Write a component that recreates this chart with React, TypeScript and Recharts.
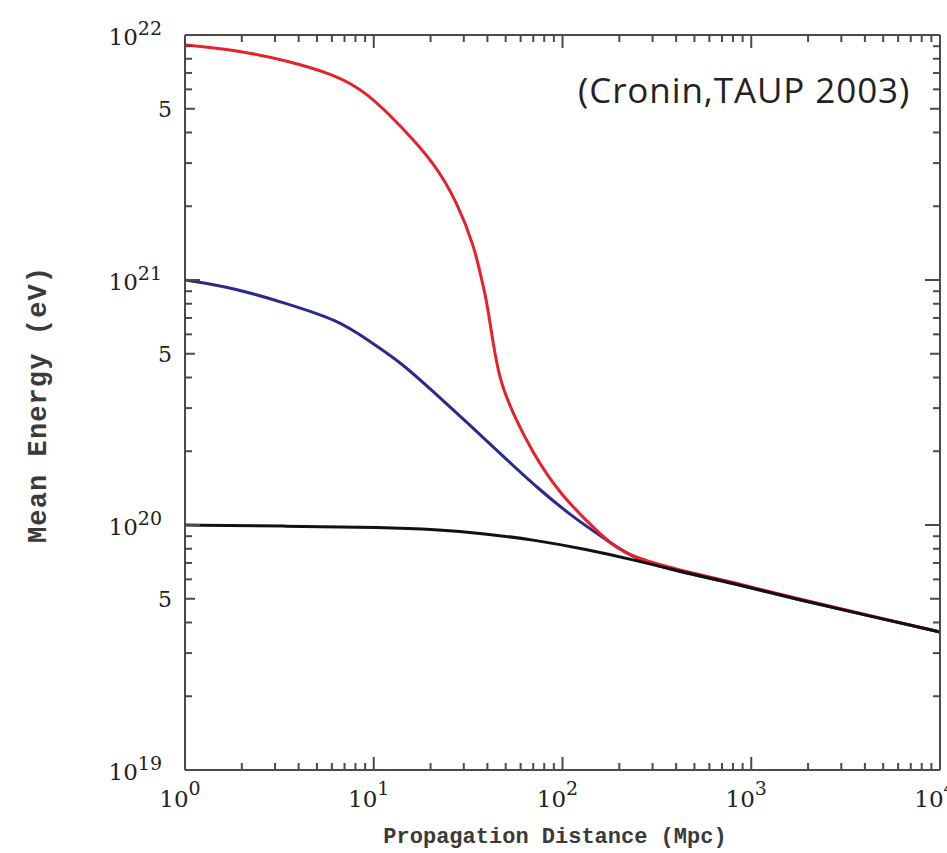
import React from 'react';
import { LineChart, Line, XAxis, YAxis } from 'recharts';

// propagation distance (Mpc) and mean energy (eV) for each injection energy
const redDistance = [1, 1.84, 3.38, 6.22, 9.3, 14.1, 21, 27.8, 34.2, 37.3, 39.6, 42.6, 46.4, 54.4, 69.4, 96.4, 134, 184, 247, 431, 793, 1795, 4210, 10000];
const redEnergy = [9.1e21, 8.7e21, 7.9e21, 6.9e21, 5.8e21, 4.2e21, 3.0e21, 2.06e21, 1.36e21, 1.0e21, 8.3e20, 5.7e20, 3.9e20, 2.87e20, 1.97e20, 1.35e20, 1.04e20, 8.2e19, 7.3e19, 6.5e19, 5.85e19, 4.98e19, 4.28e19, 3.66e19];

const blueDistance = [1, 1.84, 3.38, 6.45, 9.3, 14.1, 21, 31.4, 46.4, 75.5, 118.6, 171, 247, 431, 793, 1795, 4210, 10000];
const blueEnergy = [1.0e21, 9.27e20, 8.05e20, 6.87e20, 5.69e20, 4.58e20, 3.46e20, 2.61e20, 1.97e20, 1.39e20, 1.05e20, 8.7e19, 7.15e19, 6.4e19, 5.8e19, 4.94e19, 4.26e19, 3.66e19];

const blackDistance = [1, 3.38, 11.4, 21, 38.7, 71.1, 130.7, 240, 431, 793, 1795, 4210, 10000];
const blackEnergy = [1.0e20, 9.9e19, 9.77e19, 9.59e19, 9.23e19, 8.69e19, 7.98e19, 7.2e19, 6.43e19, 5.8e19, 4.94e19, 4.26e19, 3.66e19];

// axis ticks: decades carry labels, 5 x decade gets a "5" on the energy axis
const xDecades = [1, 10, 100, 1000, 10000];
const yDecades = [1e19, 1e20, 1e21, 1e22];
const minorSteps = [2, 3, 4, 5, 6, 7, 8, 9];

const withMinors = (decades: number[]) =>
  decades.flatMap((d, i) => (i < decades.length - 1 ? [d, ...minorSteps.map((m) => d * m)] : [d]));

const xTicks = withMinors(xDecades);
const yTicks = withMinors(yDecades);
const yFives = yDecades.slice(0, -1).map((d) => d * 5);

const toRows = (xs: number[], ys: number[]) => xs.map((d, i) => ({ d, e: ys[i] }));
const redData = toRows(redDistance, redEnergy);
const blueData = toRows(blueDistance, blueEnergy);
const blackData = toRows(blackDistance, blackEnergy);

const frame = '#4a4a4a';
const labelFont = '"DejaVu Serif", serif';
const titleFont = '"Liberation Mono", monospace';
const MINOR = 7;

const exponent = (v: number) => Math.round(Math.log10(v));

const yTickLength = (v: number) => (yDecades.includes(v) ? 15 : yFives.includes(v) ? 10 : MINOR);

const BottomTick = (props: any) => {
  const { x, y, payload } = props;
  const major = xDecades.includes(payload.value);
  return (
    <g>
      <line x1={x} x2={x} y1={y} y2={y - (major ? 13 : MINOR)} stroke={frame} strokeWidth={2} />
      {major && (
        <text x={x - 5} y={y + 37} textAnchor="middle" fontFamily={labelFont} fontSize={23} fill="#222">
          10<tspan dy={-12} fontSize={19}>{exponent(payload.value)}</tspan>
        </text>
      )}
    </g>
  );
};

const TopTick = (props: any) => {
  const { x, y, payload } = props;
  const major = xDecades.includes(payload.value);
  return <line x1={x} x2={x} y1={y} y2={y + (major ? 13 : MINOR)} stroke={frame} strokeWidth={2} />;
};

const LeftTick = (props: any) => {
  const { x, y, payload } = props;
  const v = payload.value;
  const major = yDecades.includes(v);
  const five = yFives.includes(v);
  return (
    <g>
      <line x1={x} x2={x + yTickLength(v)} y1={y} y2={y} stroke={frame} strokeWidth={2} />
      {major && (
        <text x={x - 23} y={y + 10} textAnchor="end" fontFamily={labelFont} fontSize={23} fill="#222">
          10<tspan dy={-10} fontSize={19}>{exponent(v)}</tspan>
        </text>
      )}
      {five && (
        <text x={x - 13} y={y + 8} textAnchor="end" fontFamily={labelFont} fontSize={22} fill="#222">
          5
        </text>
      )}
    </g>
  );
};

const RightTick = (props: any) => {
  const { x, y, payload } = props;
  return <line x1={x} x2={x - yTickLength(payload.value)} y1={y} y2={y} stroke={frame} strokeWidth={2} />;
};

export default function App() {
  return (
    <div style={{ position: 'absolute', left: 0, top: 0, width: 947, height: 853, overflow: 'hidden', background: '#fff' }}>
      <LineChart width={947} height={853} margin={{ top: 34, right: 6, bottom: 0, left: 0 }}>
        <XAxis
          xAxisId="bottom"
          dataKey="d"
          type="number"
          scale="log"
          domain={[1, 10000]}
          allowDataOverflow
          ticks={xTicks}
          interval={0}
          height={83}
          tickSize={0}
          tickMargin={0}
          tickLine={false}
          axisLine={{ stroke: frame, strokeWidth: 2 }}
          tick={BottomTick}
          label={{
            content: () => (
              <text x={555} y={843} textAnchor="middle" fontFamily={titleFont} fontWeight="bold" fontSize={22} fill="#3a3a3a">
                Propagation Distance (Mpc)
              </text>
            ),
          }}
        />
        <XAxis
          xAxisId="top"
          orientation="top"
          dataKey="d"
          type="number"
          scale="log"
          domain={[1, 10000]}
          allowDataOverflow
          ticks={xTicks}
          interval={0}
          height={1}
          tickSize={0}
          tickMargin={0}
          tickLine={false}
          axisLine={{ stroke: frame, strokeWidth: 2 }}
          tick={TopTick}
        />
        <YAxis
          yAxisId="left"
          type="number"
          scale="log"
          domain={[1e19, 1e22]}
          allowDataOverflow
          ticks={yTicks}
          interval={0}
          width={185}
          tickSize={0}
          tickMargin={0}
          tickLine={false}
          axisLine={{ stroke: frame, strokeWidth: 2 }}
          tick={LeftTick}
          label={{
            content: () => (
              <text
                x={0}
                y={0}
                transform="translate(46, 405) rotate(-90)"
                textAnchor="middle"
                fontFamily={titleFont}
                fontWeight="bold"
                fontSize={27}
                textLength={276}
                fill="#3a3a3a"
              >
                Mean Energy (eV)
              </text>
            ),
          }}
        />
        <YAxis
          yAxisId="right"
          orientation="right"
          type="number"
          scale="log"
          domain={[1e19, 1e22]}
          allowDataOverflow
          ticks={yTicks}
          interval={0}
          width={1}
          tickSize={0}
          tickMargin={0}
          tickLine={false}
          axisLine={{ stroke: frame, strokeWidth: 2 }}
          tick={RightTick}
        />
        <Line xAxisId="bottom" yAxisId="left" data={blueData} dataKey="e" type="basis" stroke="#2b2a8c" strokeWidth={3} dot={false} isAnimationActive={false} />
        <Line xAxisId="bottom" yAxisId="left" data={redData} dataKey="e" type="basis" stroke="#e8202a" strokeWidth={3} dot={false} isAnimationActive={false} />
        <Line xAxisId="bottom" yAxisId="left" data={blackData} dataKey="e" type="basis" stroke="#111111" strokeWidth={3} dot={false} isAnimationActive={false} />
      </LineChart>
      <div
        style={{
          position: 'absolute',
          left: 578,
          top: 72,
          fontFamily: '"Open Sans", sans-serif',
          fontSize: 35,
          letterSpacing: 0.9,
          lineHeight: 1,
          color: '#222',
          whiteSpace: 'nowrap',
        }}
      >
        (Cronin,TAUP 2003)
      </div>
    </div>
  );
}
